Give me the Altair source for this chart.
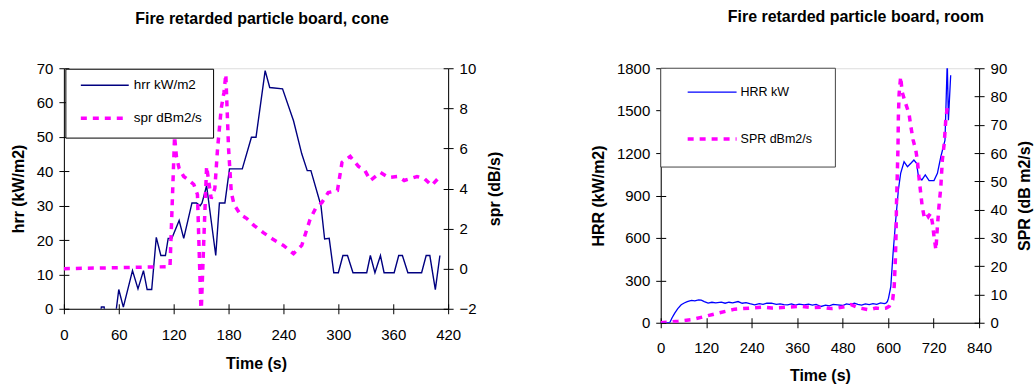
import altair as alt
import pandas as pd

FONT = "Liberation Sans"

# ---------------- data: cone ----------------
cone_hrr_t = [0, 35, 38, 41, 44, 47, 55, 60, 65, 75, 81, 87, 91, 96, 101, 106, 111, 114, 118, 126, 131,
              140, 145, 149, 151, 156, 166, 170, 176, 181, 195, 205, 210, 220, 225, 239, 251, 260, 266,
              270, 281, 285, 290, 295, 300, 305, 310, 316, 331, 335, 340, 346, 350, 361, 366, 370, 376,
              391, 396, 400, 406, 411]
cone_hrr = [-5, -5, -5, 0.5, 0.5, -5, -5, 5.6, 0.5, 11.1, 5.8, 11.1, 5.6, 5.6, 20.8, 15.5, 15.5, 20.5, 20.5,
            25.7, 20.5, 30.8, 30.8, 30.0, 30.8, 35.8, 15.5, 30.8, 30.8, 40.7, 40.7, 49.9, 49.9, 69.3, 64.4,
            64.0, 54.7, 45.1, 40.2, 40.2, 30.0, 20.3, 20.5, 10.5, 10.5, 15.5, 15.5, 10.5, 10.5, 15.5, 10.5,
            15.5, 10.5, 10.5, 15.5, 15.5, 10.5, 10.5, 15.5, 15.5, 5.6, 15.5]

cone_spr_t = [0, 116, 121, 123, 126, 131, 137, 142, 146, 150, 153, 156, 161, 165, 168, 172, 175, 177, 180,
              183, 186, 193, 200, 208, 218, 229, 240, 251, 260, 269, 275, 282, 289, 299, 304, 313, 322,
              329, 335, 346, 355, 365, 372, 386, 394, 402, 411]
cone_spr = [0, 0.1, 6.6, 5.6, 5.0, 4.6, 4.4, 4.2, 3.7, -2.3, 1.5, 5.1, 3.5, 4.0, 6.0, 8.0, 8.8, 9.7, 6.0,
            3.8, 3.2, 2.7, 2.5, 2.15, 1.8, 1.45, 1.16, 0.75, 1.16, 2.45, 3.0, 3.3, 3.8, 3.9, 5.3, 5.6, 5.1,
            4.9, 4.4, 4.8, 4.55, 4.6, 4.4, 4.6, 4.5, 4.15, 4.6]

# ---------------- data: room ----------------
room_hrr_t = [0, 10, 24, 30, 37, 45, 54, 62, 70, 81, 90, 100, 107, 115, 125, 135, 145, 160, 170, 180, 190,
              204, 215, 225, 235, 248, 260, 270, 280, 292, 305, 315, 325, 335, 345, 355, 365, 379, 390,
              400, 410, 423, 435, 445, 455, 467, 480, 490, 500, 511, 520, 530, 540, 550, 560, 570, 580,
              590, 594, 598, 601, 607, 613, 620, 627, 633, 642, 651, 660, 668, 675, 680, 689, 698, 708,
              721, 730, 739, 750, 756, 759, 765]
room_hrr = [0, 0, 2, 35, 68, 100, 127, 140, 150, 158, 155, 162, 160, 150, 139, 145, 140, 146, 138, 145, 140,
            150, 138, 142, 135, 127, 135, 130, 138, 139, 130, 134, 128, 127, 134, 125, 131, 127, 132,
            125, 130, 115, 125, 120, 130, 127, 122, 133, 128, 139, 130, 125, 133, 128, 135, 130, 140,
            135, 139, 150, 174, 256, 492, 727, 939, 1057, 1139, 1104, 1128, 1151, 1128, 1033, 1010, 1045,
            1005, 1005, 1057, 1174, 1292, 1850, 1433, 1750]

room_spr_t = [0, 20, 46, 81, 116, 151, 195, 239, 270, 292, 335, 370, 400, 423, 450, 467, 490, 502, 524,
              550, 568, 581, 595, 603, 612, 616, 619, 621, 622, 624, 626, 627, 629, 633, 637, 646, 655,
              660, 666, 673, 677, 682, 686, 690, 695, 701, 706, 712, 717, 721, 726, 730, 734, 739, 743,
              748, 752, 756, 761]
room_spr = [0, 0.2, 0.5, 1.1, 2.2, 3.4, 4.8, 5.2, 5.5, 5.2, 5.5, 5.8, 5.3, 5.5, 5.0, 5.2, 5.8, 6.4, 5.2,
            4.6, 5.2, 5.0, 5.2, 5.8, 8.1, 12.8, 22, 32, 42, 51.6, 62.2, 72.8, 81, 87, 81.6, 77.6, 74,
            69.3, 64.6, 61, 57.5, 50.5, 45.8, 41, 37.5, 38.7, 37.5, 38.7, 35.2, 30.5, 25.8, 34, 41, 48,
            57.5, 63.4, 71.6, 76.3, 75]

# ---------------- axes / labels ----------------
cone_x_ticks = [0, 60, 120, 180, 240, 300, 360, 420]
cone_hrr_ticks = [0, 10, 20, 30, 40, 50, 60, 70]
cone_spr_ticks = [-2, 0, 2, 4, 6, 8, 10]
room_x_ticks = [0, 120, 240, 360, 480, 600, 720, 840]
room_hrr_ticks = [0, 300, 600, 900, 1200, 1500, 1800]
room_spr_ticks = [0, 10, 20, 30, 40, 50, 60, 70, 80, 90]

cone_legend = ["hrr kW/m2", "spr dBm2/s"]
room_legend = ["HRR kW", "SPR dBm2/s"]
cone_title = "Fire retarded particle board, cone"
room_title = "Fire retarded particle board, room"
cone_axis_titles = ["Time (s)", "hrr (kW/m2)", "spr (dB/s)"]
room_axis_titles = ["Time (s)", "HRR (kW/m2)", "SPR (dB m2/s)"]

MAGENTA = "#FF00FF"


def ax(orient, values, title=None, main=True, labelPadding=6, titlePadding=10):
    common = dict(orient=orient, values=values, tickSize=5, tickColor="black", tickWidth=1,
                  grid=False, labelOverlap=False, labelFlush=False)
    if main:
        extra = {}
        if orient == "right":
            extra["titleAngle"] = 270
            extra["titleBaseline"] = "top"
        return alt.Axis(title=title, domainColor="black", domainWidth=1, labelFont=FONT,
                        labelFontSize=15, labelColor="black", labelPadding=labelPadding, format="d",
                        titleFont=FONT, titleFontSize=16, titleFontWeight="bold", titleColor="black",
                        titlePadding=titlePadding, **extra, **common)
    return alt.Axis(title=None, domain=False, labels=False, offset=-5, **common)


def panel(ht, hv, st, sv, xdom, xt, hdom, hticks, sdom, sticks, legend, titles, title,
          hcolor, hwidth, w, h, box, samples, label_x, ys, lfont, box_color, title_dx, title_dy,
          xlabpad, xtitlepad):
    dh = pd.DataFrame({"t": ht, "v": hv})
    ds = pd.DataFrame({"t": st, "v": sv})
    xs = alt.Scale(domain=xdom, nice=False, zero=False)
    hs = alt.Scale(domain=hdom, nice=False, zero=False)
    ss = alt.Scale(domain=sdom, nice=False, zero=False)

    l1 = alt.Chart(dh).mark_line(color=hcolor, strokeWidth=hwidth, clip=True).encode(
        x=alt.X("t:Q", scale=xs, axis=ax("bottom", xt, titles[0], labelPadding=xlabpad,
                                          titlePadding=xtitlepad)),
        y=alt.Y("v:Q", scale=hs, axis=ax("left", hticks, titles[1])),
    )
    l2 = alt.Chart(ds).mark_line(color=MAGENTA, strokeWidth=3.5, strokeDash=[6, 6], clip=True).encode(
        x=alt.X("t:Q", scale=xs, axis=ax("bottom", xt, main=False)),
        y=alt.Y("v:Q", scale=ss, axis=ax("right", sticks, titles[2])),
    )
    l3 = alt.Chart(dh).mark_line(strokeOpacity=0, clip=True).encode(
        x=alt.X("t:Q", scale=xs, axis=None),
        y=alt.Y("v:Q", scale=hs, axis=ax("left", hticks, main=False)),
    )
    l4 = alt.Chart(ds).mark_line(strokeOpacity=0, clip=True).encode(
        x=alt.X("t:Q", scale=xs, axis=None),
        y=alt.Y("v:Q", scale=ss, axis=ax("right", sticks, main=False)),
    )
    # legend box
    lb = alt.Chart(pd.DataFrame({"k": [0]})).mark_rect(fill="white", stroke=box_color, strokeWidth=1).encode(
        x=alt.value(box[0]), x2=alt.value(box[1]), y=alt.value(box[2]), y2=alt.value(box[3]))
    ls1 = alt.Chart(pd.DataFrame({"k": [0]})).mark_rule(color=hcolor, strokeWidth=hwidth).encode(
        x=alt.value(samples[0]), x2=alt.value(samples[1]), y=alt.value(ys[0]))
    ls2 = alt.Chart(pd.DataFrame({"k": [0]})).mark_rule(color=MAGENTA, strokeWidth=3.5,
                                                        strokeDash=[6, 6]).encode(
        x=alt.value(samples[0]), x2=alt.value(samples[1]), y=alt.value(ys[1]))
    lt1 = alt.Chart(pd.DataFrame({"label": [legend[0]]})).mark_text(
        align="left", baseline="middle", font=FONT, fontSize=lfont, color="black").encode(
        x=alt.value(label_x), y=alt.value(ys[0]), text="label:N")
    lt2 = alt.Chart(pd.DataFrame({"label": [legend[1]]})).mark_text(
        align="left", baseline="middle", font=FONT, fontSize=lfont, color="black").encode(
        x=alt.value(label_x), y=alt.value(ys[1]), text="label:N")

    return alt.layer(l1, l2, l3, l4, lb, ls1, ls2, lt1, lt2).resolve_scale(
        x="independent", y="independent").properties(
        width=w, height=h,
        title=alt.TitleParams(title, font=FONT, fontSize=16, fontWeight="bold", color="black",
                              anchor="middle", frame="group", dx=title_dx, dy=title_dy, offset=36))


left = panel(cone_hrr_t, cone_hrr, cone_spr_t, cone_spr, [0, 420], cone_x_ticks, [0, 70], cone_hrr_ticks,
             [-2, 10], cone_spr_ticks, cone_legend, cone_axis_titles, cone_title, "#000080", 1.4,
             385, 241, [2, 150, 1, 70], [17, 65], 70, [17, 50], 13.5, "black", 6, 2, 14, 13)
right = panel(room_hrr_t, room_hrr, room_spr_t, room_spr, [0, 840], room_x_ticks, [0, 1800], room_hrr_ticks,
              [0, 90], room_spr_ticks, room_legend, room_axis_titles, room_title, "#0000FF", 1.3,
              319, 255, [0, 175, 0, 99], [27, 76], 80, [24, 71], 12.5, "#444444", 36, 0, 13, 12)

chart = alt.hconcat(left, right, spacing=87).properties(
    padding={"left": 9, "top": 8, "right": 0, "bottom": 0}
).configure_view(stroke="#999999", strokeWidth=1).configure(background="white")

chart.save("out.html", embed_options={"renderer": "svg", "actions": False})
